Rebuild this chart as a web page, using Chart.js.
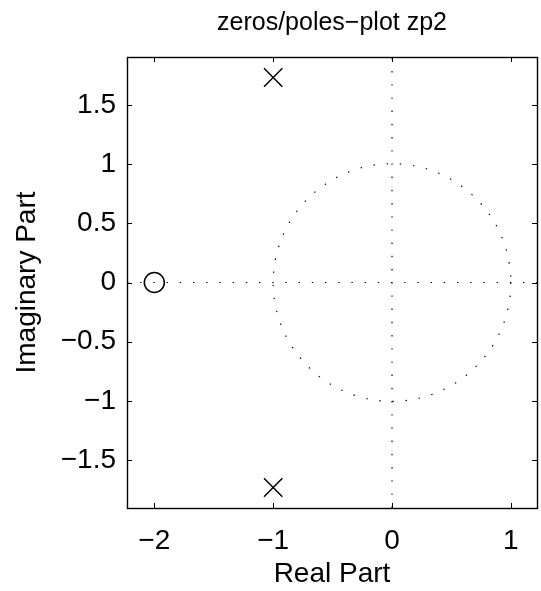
<!DOCTYPE html>
<html>
<head>
<meta charset="utf-8">
<script src="https://cdn.jsdelivr.net/npm/chart.js@4/dist/chart.umd.min.js"></script>
<style>
  html, body { margin: 0; padding: 0; background: #fff; }
  #wrap { width: 541px; height: 591px; }
</style>
</head>
<body>
<div id="wrap"><canvas id="c" width="541" height="591"></canvas></div>
<script>
// Zeros and poles of zp2 in the complex plane
const zerosRe = [-2];
const zerosIm = [0];
const polesRe = [-1, -1];
const polesIm = [1.732, -1.732];

// Axis limits and tick values
const xLimits = [-2.23, 1.22];
const yLimits = [-1.905, 1.905];
const xTicks = [-2, -1, 0, 1];
const yTicks = [-1.5, -1, -0.5, 0, 0.5, 1, 1.5];
const unitRadius = 1;

const FONT = "'Liberation Sans', Arial, Helvetica, sans-serif";
const DOT_DASH = [1.4, 11.8];

function fmt(v) {
  const s = String(v);
  return v < 0 ? '\u2212' + s.slice(1) : s;
}

const zeroPts = zerosRe.map((re, i) => ({ x: re, y: zerosIm[i] }));
const polePts = polesRe.map((re, i) => ({ x: re, y: polesIm[i] }));

// Unit circle, inward tick marks and the axes box
const planePlugin = {
  id: 'plane',
  beforeDatasetsDraw(chart) {
    const { ctx, scales: { x, y } } = chart;
    const cx = x.getPixelForValue(0), cy = y.getPixelForValue(0);
    const r = x.getPixelForValue(unitRadius) - cx;
    ctx.save();
    ctx.strokeStyle = '#000';
    ctx.lineWidth = 1.2;
    ctx.setLineDash(DOT_DASH);
    ctx.beginPath();
    ctx.arc(cx, cy, r, 0, Math.PI * 2);
    ctx.stroke();
    ctx.restore();
  },
  afterDraw(chart) {
    const { ctx, chartArea: a, scales: { x, y } } = chart;
    const tl = 5;
    ctx.save();
    ctx.strokeStyle = '#000';
    ctx.lineWidth = 1;
    ctx.beginPath();
    x.ticks.forEach(t => {
      const px = Math.round(x.getPixelForValue(t.value)) + 0.5;
      ctx.moveTo(px, a.bottom); ctx.lineTo(px, a.bottom - tl);
      ctx.moveTo(px, a.top); ctx.lineTo(px, a.top + tl);
    });
    y.ticks.forEach(t => {
      const py = Math.round(y.getPixelForValue(t.value)) + 0.5;
      ctx.moveTo(a.left, py); ctx.lineTo(a.left + tl, py);
      ctx.moveTo(a.right, py); ctx.lineTo(a.right - tl, py);
    });
    ctx.stroke();
    ctx.lineWidth = 1.4;
    ctx.strokeRect(Math.round(a.left) + 0.5, Math.round(a.top) + 0.5,
                   Math.round(a.right - a.left), Math.round(a.bottom - a.top));
    ctx.restore();
  }
};

new Chart(document.getElementById('c'), {
  type: 'scatter',
  data: {
    datasets: [
      {
        label: 'real axis',
        data: [{ x: xLimits[0], y: 0 }, { x: xLimits[1], y: 0 }],
        showLine: true, pointRadius: 0, borderColor: '#000', borderWidth: 1.2,
        borderDash: DOT_DASH, order: 3
      },
      {
        label: 'imaginary axis',
        data: [{ x: 0, y: yLimits[0] }, { x: 0, y: yLimits[1] }],
        showLine: true, pointRadius: 0, borderColor: '#000', borderWidth: 1.2,
        borderDash: DOT_DASH, order: 3
      },
      {
        label: 'zeros',
        data: zeroPts,
        pointStyle: 'circle', pointRadius: 10, borderWidth: 1.5,
        borderColor: '#000', backgroundColor: 'rgba(0,0,0,0)', order: 1
      },
      {
        label: 'poles',
        data: polePts,
        pointStyle: 'crossRot', pointRadius: 13, borderWidth: 1.5,
        borderColor: '#000', order: 1
      }
    ]
  },
  options: {
    responsive: false,
    animation: false,
    events: [],
    layout: { autoPadding: false, padding: { left: 0, right: 4, top: 0, bottom: 0 } },
    plugins: {
      legend: { display: false },
      tooltip: { enabled: false },
      title: {
        display: true,
        text: 'zeros/poles\u2212plot zp2',
        color: '#000',
        fullSize: false,
        font: { family: FONT, size: 25, weight: 'normal' },
        padding: { top: 8, bottom: 19 }
      }
    },
    scales: {
      x: {
        type: 'linear', position: 'bottom',
        min: xLimits[0], max: xLimits[1],
        afterBuildTicks: s => { s.ticks = xTicks.map(v => ({ value: v })); },
        afterFit: s => { s.height = 83; s.paddingLeft = 0; s.paddingRight = 0; },
        grid: { display: false, drawTicks: false },
        border: { display: false },
        ticks: {
          color: '#000', padding: 16, maxRotation: 0, autoSkip: false,
          font: { family: FONT, size: 28 },
          callback: v => fmt(v)
        },
        title: {
          display: true, text: 'Real Part', color: '#000',
          font: { family: FONT, size: 28 }, padding: { top: 0, bottom: 0 }
        }
      },
      y: {
        type: 'linear', position: 'left',
        min: yLimits[0], max: yLimits[1],
        afterBuildTicks: s => { s.ticks = yTicks.map(v => ({ value: v })); },
        afterFit: s => { s.width = 127; s.paddingTop = 0; s.paddingBottom = 0; },
        grid: { display: false, drawTicks: false },
        border: { display: false },
        ticks: {
          color: '#000', padding: 11, autoSkip: false,
          font: { family: FONT, size: 28 },
          callback: v => fmt(v)
        },
        title: {
          display: true, text: 'Imaginary Part', color: '#000',
          font: { family: FONT, size: 28 }, padding: { top: 10, bottom: 10 }
        }
      }
    }
  },
  plugins: [planePlugin]
});
</script>
</body>
</html>
